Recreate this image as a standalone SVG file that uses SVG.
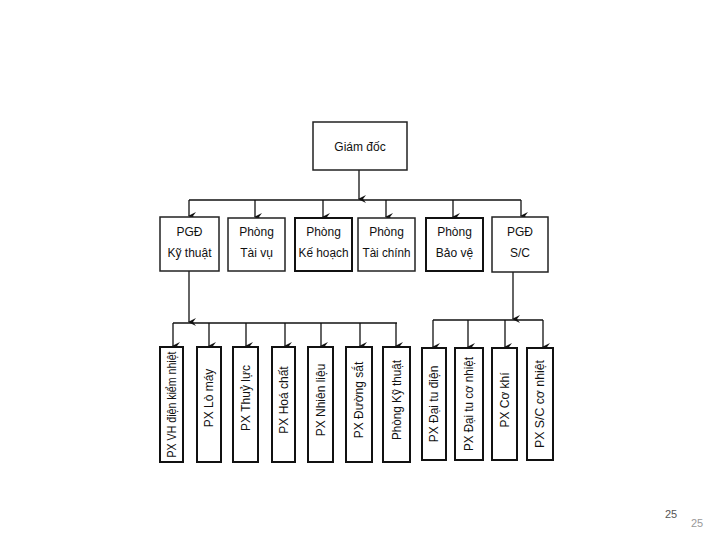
<svg xmlns="http://www.w3.org/2000/svg" width="720" height="540" viewBox="0 0 720 540">
<defs>
<marker id="ah" markerWidth="8" markerHeight="8" refX="4" refY="7" orient="auto" markerUnits="userSpaceOnUse" viewBox="0 0 8 8">
<path d="M0,0 L4,8 L8,0 L4,3 Z" fill="#111"/>
</marker>
</defs>
<style>
.b{fill:#fff;stroke:#222;stroke-width:1.5}
.k{fill:#fff;stroke:#111;stroke-width:2}
.t{font-family:"Liberation Sans",Arial,sans-serif;font-size:12px;fill:#111;text-anchor:middle}
.v{font-family:"Liberation Sans",Arial,sans-serif;font-size:12px;fill:#111;text-anchor:middle;dominant-baseline:central}
.c{fill:none;stroke:#111;stroke-width:1.3}
.a{fill:none;stroke:#111;stroke-width:1.3;marker-end:url(#ah)}
</style>
<rect width="720" height="540" fill="#fff"/>
<g id="connectors">
<path class="a" d="M359,170 V199"/>
<path class="c" d="M189,200 H521"/>
<path class="a" d="M189,200 V216"/>
<path class="a" d="M255,200 V217"/>
<path class="a" d="M323,200 V217"/>
<path class="a" d="M386,200 V217"/>
<path class="a" d="M453,200 V217"/>
<path class="a" d="M521,200 V216"/>
<path class="a" d="M189,271 V322"/>
<path class="c" d="M173,323 H397"/>
<path class="a" d="M173,323 V346"/>
<path class="a" d="M209,323 V346"/>
<path class="a" d="M246,323 V346"/>
<path class="a" d="M285,323 V346"/>
<path class="a" d="M321,323 V346"/>
<path class="a" d="M360,323 V346"/>
<path class="a" d="M396,323 V346"/>
<path class="a" d="M513,272 V319"/>
<path class="c" d="M433,320 H543"/>
<path class="a" d="M433,320 V347"/>
<path class="a" d="M468,320 V347"/>
<path class="a" d="M505,320 V347"/>
<path class="a" d="M543,320 V347"/>
</g>
<g id="giamdoc"><rect class="b" x="313" y="122" width="94" height="48"/><text class="t" x="360" y="151">Giám đốc</text></g>
<g id="pgd-kt"><rect class="b" x="160" y="217" width="59" height="54"/><text class="t" x="189.5" y="236">PGĐ</text><text class="t" x="189.5" y="257">Kỹ thuật</text></g>
<g id="p-taivu"><rect class="b" x="228" y="218" width="57" height="53"/><text class="t" x="256.5" y="236">Phòng</text><text class="t" x="256.5" y="257">Tài vụ</text></g>
<g id="p-kehoach"><rect class="k" x="295" y="218" width="57" height="53"/><text class="t" x="323.5" y="236">Phòng</text><text class="t" x="323.5" y="257" textLength="50" lengthAdjust="spacingAndGlyphs">Kế hoạch</text></g>
<g id="p-taichinh"><rect class="b" x="358" y="218" width="57" height="53"/><text class="t" x="386.5" y="236">Phòng</text><text class="t" x="386.5" y="257" textLength="48" lengthAdjust="spacingAndGlyphs">Tài chính</text></g>
<g id="p-baove"><rect class="k" x="426" y="218" width="57" height="53"/><text class="t" x="454.5" y="236">Phòng</text><text class="t" x="454.5" y="257">Bảo vệ</text></g>
<g id="pgd-sc"><rect class="b" x="492" y="217" width="56" height="55"/><text class="t" x="520" y="236">PGĐ</text><text class="t" x="520" y="257">S/C</text></g>
<g id="px-vh"><rect class="k" x="160" y="347" width="23" height="115"/><text class="v" transform="translate(171.5,404.5) rotate(-90)" textLength="106" lengthAdjust="spacingAndGlyphs">PX VH điện kiểm nhiệt</text></g>
<g id="px-lomay"><rect class="k" x="197" y="347" width="24" height="115"/><text class="v" transform="translate(209,398) rotate(-90)">PX Lò máy</text></g>
<g id="px-thuyluc"><rect class="k" x="233" y="347" width="25" height="115"/><text class="v" transform="translate(245.5,398) rotate(-90)">PX Thuỷ lực</text></g>
<g id="px-hoachat"><rect class="k" x="272" y="347" width="23" height="115"/><text class="v" transform="translate(283.5,400) rotate(-90)">PX Hoá chất</text></g>
<g id="px-nhienlieu"><rect class="k" x="308" y="347" width="25" height="115"/><text class="v" transform="translate(320.5,400) rotate(-90)">PX Nhiên liệu</text></g>
<g id="px-duongsat"><rect class="k" x="346" y="347" width="26" height="115"/><text class="v" transform="translate(359,400) rotate(-90)">PX Đường sắt</text></g>
<g id="p-kythuat"><rect class="k" x="383" y="347" width="27" height="115"/><text class="v" transform="translate(396.5,400) rotate(-90)" textLength="80" lengthAdjust="spacingAndGlyphs">Phòng Kỹ thuật</text></g>
<g id="px-daitudien"><rect class="k" x="422" y="348" width="24" height="112"/><text class="v" transform="translate(434,404) rotate(-90)">PX Đại tu điện</text></g>
<g id="px-daitucn"><rect class="k" x="455" y="348" width="28" height="112"/><text class="v" transform="translate(469,404) rotate(-90)" textLength="94" lengthAdjust="spacingAndGlyphs">PX Đại tu cơ nhiệt</text></g>
<g id="px-cokhi"><rect class="k" x="492" y="348" width="25" height="112"/><text class="v" transform="translate(504.5,400) rotate(-90)">PX Cơ khí</text></g>
<g id="px-sccn"><rect class="k" x="527" y="348" width="26" height="112"/><text class="v" transform="translate(540,404) rotate(-90)" textLength="88" lengthAdjust="spacingAndGlyphs">PX S/C cơ nhiệt</text></g>
<text x="671" y="518" font-family="Liberation Sans,Arial,sans-serif" font-size="11" fill="#555" text-anchor="middle">25</text>
<text x="697" y="527" font-family="Liberation Sans,Arial,sans-serif" font-size="11" fill="#999" text-anchor="middle">25</text>
</svg>
